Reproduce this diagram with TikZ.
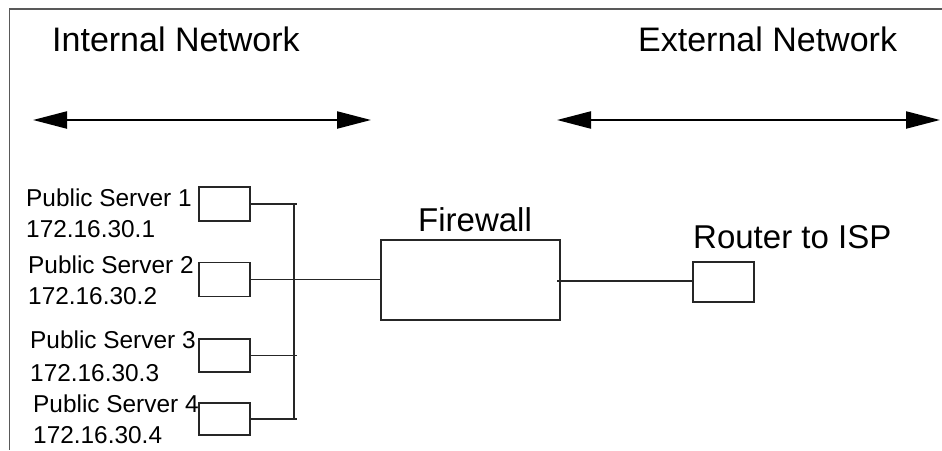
\documentclass[tikz,border=0pt]{standalone}
\usepackage{fontspec}
\setmainfont{Liberation Sans}
\usetikzlibrary{arrows.meta}
\begin{document}
\begin{tikzpicture}[x=1pt,y=-1pt,
  boxnode/.style={draw=black!85, line width=1.7pt, inner sep=0pt},
  wire/.style={draw=black!85, line width=1.7pt},
  frameline/.style={draw=black!65, line width=1.3pt},
  bigarrow/.style={line width=2.2pt, {Triangle[length=34pt,width=17pt]}-{Triangle[length=34pt,width=17pt]}},
  title/.style={inner sep=0pt, anchor=base west, font=\fontsize{34}{40}\selectfont},
  label/.style={inner sep=0pt, anchor=base west, font=\fontsize{33}{38}\selectfont},
  srv/.style={inner sep=0pt, anchor=base west, font=\fontsize{24.4}{28}\selectfont}]
\useasboundingbox (0,0) rectangle (942,450);
% frame
\coordinate (ftl) at (9.5,9);
\coordinate (ftr) at (942,9);
\coordinate (fbl) at (9.5,450);
\draw[frameline] (ftr) -- (ftl) -- (fbl);
% titles
\node[title] (tin) at (52,51) {Internal Network};
\node[title] (tex) at (638,51) {External Network};
% arrows
\coordinate (al1) at (33,120);
\coordinate (al2) at (371,120);
\coordinate (ar1) at (557,120);
\coordinate (ar2) at (940,120);
\draw[bigarrow] (al1) -- (al2);
\draw[bigarrow] (ar1) -- (ar2);
% servers
\node[boxnode, minimum width=51pt, minimum height=34pt] (s1) at (224.5,204) {};
\node[boxnode, minimum width=51pt, minimum height=34pt] (s2) at (224.5,279.5) {};
\node[boxnode, minimum width=51pt, minimum height=33pt] (s3) at (224.5,355.5) {};
\node[boxnode, minimum width=51pt, minimum height=32pt] (s4) at (224.5,419) {};
\node[srv] (p1) at (26,206) {Public Server 1};
\node[srv] (i1) at (26,237) {172.16.30.1};
\node[srv] (p2) at (28,273) {Public Server 2};
\node[srv] (i2) at (28,304) {172.16.30.2};
\node[srv] (p3) at (30,348) {Public Server 3};
\node[srv] (i3) at (30,381) {172.16.30.3};
\node[srv] (p4) at (33,412) {Public Server 4};
\node[srv] (i4) at (33,443) {172.16.30.4};
% bus
\coordinate (bt) at (294,203);
\coordinate (bb) at (294,420);
\coordinate (bx) at (297,0);
\draw[wire] (bt) -- (bb);
\draw[wire] (s1.east) -- (s1.east -| bx);
\draw[wire] (s3.east) -- (s3.east -| bx);
\draw[wire] (s4.east) -- (s4.east -| bx);
% firewall
\node[boxnode, minimum width=179pt, minimum height=80pt] (fw) at (470.5,280) {};
\node[label] (fwl) at (418,231) {Firewall};
\draw[wire] (s2.east) -- (s2.east -| fw.west);
% router
\node[boxnode, minimum width=61pt, minimum height=40pt] (rt) at (723.5,282) {};
\node[label] (rtl) at (693,248) {Router to ISP};
\coordinate (fwr) at (557,281);
\draw[wire] (fwr) -- (fwr -| rt.west);
\end{tikzpicture}
\end{document}
